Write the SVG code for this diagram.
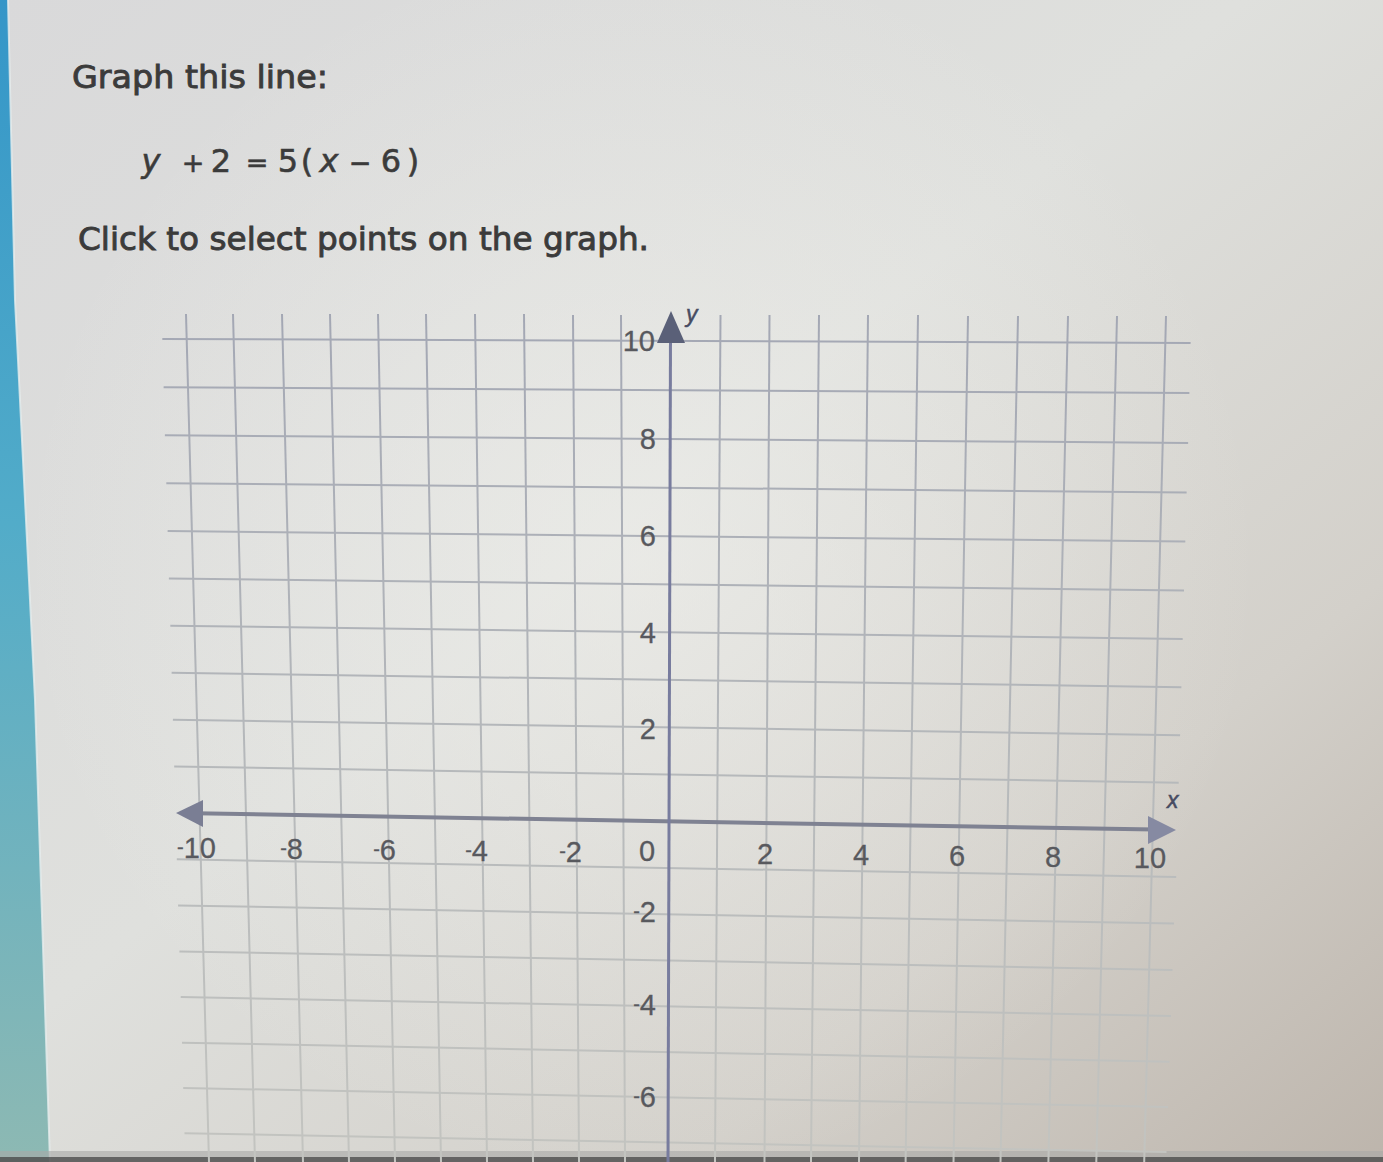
<svg xmlns="http://www.w3.org/2000/svg" width="1383" height="1162" viewBox="0 0 1383 1162">
  <defs>
    <linearGradient id="bg" x1="0" y1="0" x2="1" y2="1">
      <stop offset="0" stop-color="#d9d9da"/>
      <stop offset="0.45" stop-color="#dfe0dd"/>
      <stop offset="0.75" stop-color="#d3d0ca"/>
      <stop offset="1" stop-color="#bdb5ac"/>
    </linearGradient>
    <radialGradient id="glow" cx="640" cy="560" r="620" gradientUnits="userSpaceOnUse">
      <stop offset="0" stop-color="#f2f2ee" stop-opacity="0.55"/>
      <stop offset="1" stop-color="#f2f2ee" stop-opacity="0"/>
    </radialGradient>
    <linearGradient id="strip" x1="0" y1="0" x2="0" y2="1">
      <stop offset="0" stop-color="#3496c8"/>
      <stop offset="0.45" stop-color="#52acc9"/>
      <stop offset="1" stop-color="#8db9b3"/>
    </linearGradient>
    <linearGradient id="gridc" gradientUnits="userSpaceOnUse" x1="0" y1="300" x2="0" y2="1162">
      <stop offset="0" stop-color="#a3a7b4"/>
      <stop offset="0.55" stop-color="#b6b9bb"/>
      <stop offset="1" stop-color="#c3c4c0"/>
    </linearGradient>
    <style>
      .title { font-family: "DejaVu Sans", Verdana, sans-serif; font-size: 32px; fill: #3b3b3b; stroke: #3b3b3b; stroke-width: 0.9px; }
      .eq { font-family: "DejaVu Sans", Verdana, sans-serif; font-size: 32px; fill: #3b3b3b; stroke: #3b3b3b; stroke-width: 0.6px; text-anchor: middle; }
      .op { font-size: 27px; }
      .it { font-style: italic; }
      .grid line { stroke: url(#gridc); stroke-width: 2; }
      .lbl { font-family: "Liberation Sans", Arial, sans-serif; font-size: 29px; fill: #58595e; stroke: #58595e; stroke-width: 0.3px; }
      .mn { font-size: 20px; }
      .axlbl { font-family: "Liberation Sans", Arial, sans-serif; font-style: italic; fill: #474c62; stroke: #474c62; stroke-width: 0.5px; }
    </style>
  </defs>

  <!-- background photo tones -->
  <rect x="0" y="0" width="1383" height="1162" fill="url(#bg)"/>
  <rect x="0" y="0" width="1383" height="1162" fill="url(#glow)"/>
  <polygon points="0,0 8,0 15,300 35,700 50,1162 0,1162" fill="url(#strip)"/>
  <polyline points="8,0 15,300 35,700 50,1162" fill="none" stroke="#e6ecec" stroke-width="2" opacity="0.8"/>
  <rect x="0" y="1151" width="1383" height="11" fill="#a9a9a6" opacity="0.6"/>
  <rect x="0" y="1157" width="1383" height="5" fill="#3e3e3e" opacity="0.7"/>

  <!-- question text -->
  <g id="title">
    <text class="title" x="72" y="88" textLength="256" lengthAdjust="spacingAndGlyphs">Graph this line:</text>
  </g>
  <g id="equation">
    <text class="eq" y="172"><tspan class="it" x="151">y</tspan><tspan class="op" x="193">+</tspan><tspan x="221">2</tspan><tspan class="op" x="257">=</tspan><tspan x="288">5</tspan><tspan x="307">(</tspan><tspan class="it" x="329">x</tspan><tspan class="op" x="360">−</tspan><tspan x="391">6</tspan><tspan x="413">)</tspan></text>
  </g>
  <g id="instruction">
    <text class="title" x="78" y="250" textLength="571" lengthAdjust="spacingAndGlyphs">Click to select points on the graph.</text>
  </g>

  <!-- grid -->
  <g id="grid" class="grid">
    <line x1="186" y1="314" x2="209" y2="1162"/>
    <line x1="233" y1="314" x2="255" y2="1162"/>
    <line x1="282" y1="314" x2="303" y2="1162"/>
    <line x1="330" y1="314" x2="349" y2="1162"/>
    <line x1="378" y1="314" x2="395" y2="1162"/>
    <line x1="426" y1="314" x2="441" y2="1162"/>
    <line x1="475" y1="314" x2="487" y2="1162"/>
    <line x1="524" y1="314" x2="533" y2="1162"/>
    <line x1="573" y1="315" x2="579" y2="1162"/>
    <line x1="621" y1="315" x2="625" y2="1162"/>
    <line x1="720.5" y1="315" x2="715" y2="1162"/>
    <line x1="769.5" y1="315" x2="764.5" y2="1162"/>
    <line x1="819" y1="315" x2="811" y2="1162"/>
    <line x1="868" y1="315" x2="859" y2="1162"/>
    <line x1="918" y1="315" x2="905.6" y2="1162"/>
    <line x1="968" y1="316" x2="953.5" y2="1162"/>
    <line x1="1018" y1="316" x2="1000.5" y2="1162"/>
    <line x1="1068" y1="316" x2="1048.4" y2="1162"/>
    <line x1="1117" y1="316" x2="1096.3" y2="1162"/>
    <line x1="1166" y1="316" x2="1144.2" y2="1162"/>
    <line x1="162.3" y1="339" x2="1190.6" y2="343"/>
    <line x1="163.6" y1="387.3" x2="1189.4" y2="393.1"/>
    <line x1="164.9" y1="435.3" x2="1188.1" y2="442.9"/>
    <line x1="166.3" y1="483.3" x2="1186.6" y2="492.4"/>
    <line x1="167.6" y1="531" x2="1185.3" y2="541.6"/>
    <line x1="168.9" y1="578.4" x2="1184" y2="590.4"/>
    <line x1="170.3" y1="625.7" x2="1182.7" y2="639"/>
    <line x1="171.6" y1="672.8" x2="1181.4" y2="687.2"/>
    <line x1="172.9" y1="719.8" x2="1180.1" y2="735.2"/>
    <line x1="174.2" y1="766.5" x2="1178.7" y2="782.7"/>
    <line x1="176.8" y1="859.3" x2="1176.2" y2="876.9"/>
    <line x1="178.1" y1="905.4" x2="1174" y2="923.6"/>
    <line x1="179.4" y1="951.4" x2="1172.5" y2="970"/>
    <line x1="180.7" y1="997.1" x2="1171" y2="1016"/>
    <line x1="182" y1="1042.7" x2="1169.5" y2="1061.7"/>
    <line x1="183.2" y1="1088" x2="1168" y2="1107"/>
    <line x1="184.5" y1="1133.2" x2="1166.5" y2="1152.1"/>
  </g>

  <!-- axes -->
  <g id="axes">
    <line x1="195" y1="813.3" x2="1155" y2="829.6" stroke="#7f8292" stroke-width="4"/>
    <line x1="670.5" y1="335" x2="668" y2="1162" stroke="#787c9e" stroke-width="3"/>
    <polygon points="671,311 657,343 685,343" fill="#5a6078"/>
    <polygon points="176,813 203,800 203,827" fill="#7a7e94"/>
    <polygon points="1176,830 1148,816 1148,844" fill="#868aa2"/>
    <text class="axlbl" x="686" y="322" font-size="23">y</text>
    <text class="axlbl" x="1167" y="808" font-size="23">x</text>
  </g>

  <!-- tick labels -->
  <g id="x-labels" class="lbl">
    <text x="216" y="858" text-anchor="end"><tspan class="mn" dy="-4">-</tspan><tspan dy="4">10</tspan></text>
    <text x="303" y="859" text-anchor="end"><tspan class="mn" dy="-4">-</tspan><tspan dy="4">8</tspan></text>
    <text x="396" y="860" text-anchor="end"><tspan class="mn" dy="-4">-</tspan><tspan dy="4">6</tspan></text>
    <text x="488" y="861" text-anchor="end"><tspan class="mn" dy="-4">-</tspan><tspan dy="4">4</tspan></text>
    <text x="582" y="862" text-anchor="end"><tspan class="mn" dy="-4">-</tspan><tspan dy="4">2</tspan></text>
    <text x="647" y="861" text-anchor="middle">0</text>
    <text x="765" y="864" text-anchor="middle">2</text>
    <text x="861" y="865" text-anchor="middle">4</text>
    <text x="957" y="866" text-anchor="middle">6</text>
    <text x="1053" y="867" text-anchor="middle">8</text>
    <text x="1150" y="868" text-anchor="middle">10</text>
  </g>
  <g id="y-labels" class="lbl" text-anchor="end">
    <text x="655" y="351">10</text>
    <text x="656" y="449">8</text>
    <text x="656" y="546">6</text>
    <text x="656" y="643">4</text>
    <text x="656" y="739">2</text>
    <text x="656" y="922"><tspan class="mn" dy="-4">-</tspan><tspan dy="4">2</tspan></text>
    <text x="656" y="1015"><tspan class="mn" dy="-4">-</tspan><tspan dy="4">4</tspan></text>
    <text x="656" y="1107"><tspan class="mn" dy="-4">-</tspan><tspan dy="4">6</tspan></text>
  </g>
</svg>
